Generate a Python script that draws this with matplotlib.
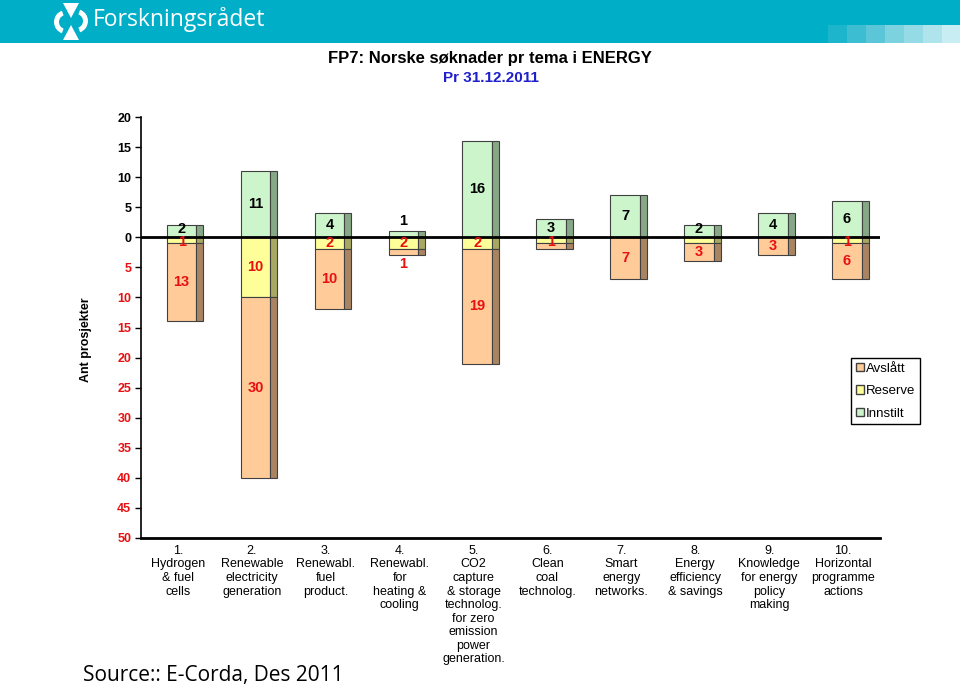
import matplotlib.pyplot as plt
from matplotlib.patches import Rectangle, Polygon, Wedge, Patch
import numpy as np

# data
themes = [
    "1.\nHydrogen\n& fuel\ncells",
    "2.\nRenewable\nelectricity\ngeneration",
    "3.\nRenewabl.\nfuel\nproduct.",
    "4.\nRenewabl.\nfor\nheating &\ncooling",
    "5.\nCO2\ncapture\n& storage\ntechnolog.\nfor zero\nemission\npower\ngeneration.",
    "6.\nClean\ncoal\ntechnolog.",
    "7.\nSmart\nenergy\nnetworks.",
    "8.\nEnergy\nefficiency\n& savings",
    "9.\nKnowledge\nfor energy\npolicy\nmaking",
    "10.\nHorizontal\nprogramme\nactions",
]
innstilt = [2, 11, 4, 1, 16, 3, 7, 2, 4, 6]
reserve = [1, 10, 2, 2, 2, 1, 0, 1, 0, 1]
avslatt = [13, 30, 10, 1, 19, 1, 7, 3, 3, 6]
yticks = [20, 15, 10, 5, 0, -5, -10, -15, -20, -25, -30, -35, -40, -45, -50]

c_green, c_green_side = "#ccf5cc", "#86a886"
c_yellow, c_yellow_side = "#ffff99", "#a8a862"
c_orange, c_orange_side = "#ffcc99", "#a88462"
edge = "#404040"

fig = plt.figure(figsize=(9.6, 6.89), dpi=100)
plt.rcParams["font.family"] = ["Liberation Sans", "DejaVu Sans"]

# ---- slide decoration (pixel coords) ----
deco = fig.add_axes([0, 0, 1, 1], zorder=0)
deco.set_xlim(0, 960)
deco.set_ylim(689, 0)
deco.axis("off")
deco.add_patch(Rectangle((0, 0), 960, 43, color="#00aec7", lw=0))
sq_cols = ["#1cb5cc", "#3cbdd2", "#5ac6d8", "#7dd2e0", "#95dbe6", "#b0e4ec", "#c8edf2"]
for i, c in enumerate(sq_cols):
    deco.add_patch(Rectangle((828 + i * 19, 25), 19, 18, color=c, lw=0))
# logo
deco.add_patch(Polygon([(63, 3), (79, 3), (71, 18)], color="white", lw=0))
deco.add_patch(Polygon([(63, 40), (79, 40), (71, 25)], color="white", lw=0))
deco.add_patch(Wedge((66, 22), 12, 110, 250, width=5, color="white", lw=0))
deco.add_patch(Wedge((76, 21), 12, -70, 70, width=5, color="white", lw=0))
deco.text(93, 19, "Forskningsrådet", color="white", fontsize=16.5,
          family=["Open Sans", "DejaVu Sans"], va="center", ha="left")
deco.text(490, 58, "FP7: Norske søknader pr tema i ENERGY", fontsize=12,
          fontweight="bold", ha="center", va="center")
deco.text(491, 78, "Pr 31.12.2011", fontsize=11, fontweight="bold",
          color="#1f1fcc", ha="center", va="center")
deco.text(83, 675, "Source:: E-Corda, Des 2011", fontsize=15,
          family=["Open Sans", "DejaVu Sans"], ha="left", va="center")
deco.text(86, 340, "Ant prosjekter", fontsize=9, fontweight="bold",
          rotation=90, ha="center", va="center")

# ---- chart ----
ax = fig.add_axes([141 / 960, 1 - 538 / 689, 739 / 960, 421 / 689], zorder=1)
ax.patch.set_alpha(0)
x = np.arange(len(themes))
I = np.array(innstilt)
R = np.array(reserve)
A = np.array(avslatt)

fx, fw = x + 0.05, 0.40
sx, sw = x + 0.2975, 0.095
for off, w, cols in [(fx, fw, (c_green, c_yellow, c_orange)),
                     (sx, sw, (c_green_side, c_yellow_side, c_orange_side))]:
    ax.bar(off, I, w, bottom=0, color=cols[0], edgecolor=edge, lw=0.8, zorder=2)
    ax.bar(off, -R, w, bottom=0, color=cols[1], edgecolor=edge, lw=0.8, zorder=2)
    ax.bar(off, -A, w, bottom=-R, color=cols[2], edgecolor=edge, lw=0.8, zorder=2)

ax.axhline(0, color="black", lw=2, zorder=3)

# data labels
lab = dict(fontsize=10.5, fontweight="bold", ha="center", va="center", zorder=4)
for i in range(len(themes)):
    yi, yr, ya = I[i] / 2, -R[i] / 2, -R[i] - A[i] / 2
    if i == 3:  # tiny bar: labels outside
        yi, ya = I[i] + 1.4, -R[i] - A[i] - 1.4
    if I[i] <= 2:
        yi += 0.3
    if R[i] == 1:
        yr -= 0.3
    if I[i] > 0:
        ax.text(fx[i], yi, str(I[i]), color="black", **lab)
    if R[i] > 0 and i != 7:
        ax.text(fx[i], yr, str(R[i]), color="#e81010", **lab)
    if A[i] > 0 and i != 5:
        ax.text(fx[i], ya, str(A[i]), color="#e81010", **lab)

ax.set_xlim(-0.5, len(themes) - 0.5)
ax.set_ylim(-50, 20)
ax.set_yticks(yticks)
ax.set_yticklabels([str(abs(v)) for v in yticks], fontsize=9, fontweight="bold")
for t, v in zip(ax.get_yticklabels(), yticks):
    t.set_color("black" if v >= 0 else "#e81010")
ax.set_xticks(x)
ax.set_xticklabels(themes, fontsize=9, linespacing=1.17, va="top")
ax.tick_params(axis="x", length=0, pad=5)
ax.tick_params(axis="y", length=4, width=1, direction="out", pad=3)
for s in ["top", "right"]:
    ax.spines[s].set_visible(False)
ax.spines["left"].set_linewidth(1.2)
ax.spines["bottom"].set_linewidth(2)

handles = [Patch(facecolor=c_orange, edgecolor=edge),
           Patch(facecolor=c_yellow, edgecolor=edge),
           Patch(facecolor=c_green, edgecolor=edge)]
fig.legend(handles, ["Avslått", "Reserve", "Innstilt"], loc="upper left",
           bbox_to_anchor=(851 / 960, 1 - 358 / 689), fontsize=9.5,
           frameon=True, fancybox=False, edgecolor="black", framealpha=1,
           handlelength=0.6, handleheight=0.6, handletextpad=0.2,
           labelspacing=0.8, borderpad=0.35, borderaxespad=0)

fig.savefig("out.png", dpi=100)
